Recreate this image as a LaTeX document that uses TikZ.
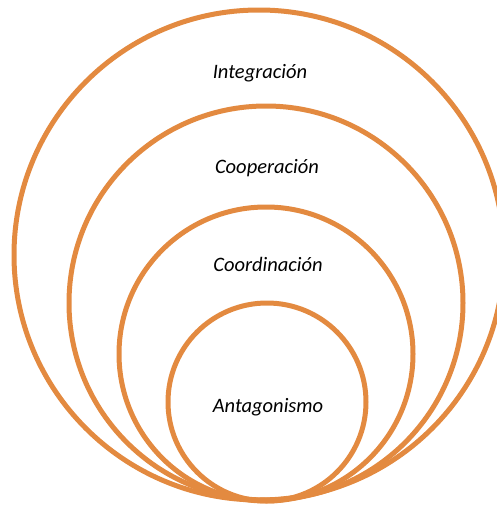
\documentclass[tikz,border=0pt]{standalone}
\usepackage{fontspec}
\setmainfont{Carlito}
\usetikzlibrary{shapes.geometric}
\definecolor{ringorange}{RGB}{227,138,64}
\tikzstyle{ring} = [circle, draw=ringorange, line width=5pt, inner sep=0pt]
\tikzstyle{label} = [text centered, font=\fontsize{20.5}{24}\selectfont\itshape, text=black]

\begin{document}
\begin{tikzpicture}[x=1pt, y=-1pt]
        \useasboundingbox (0,0) rectangle (497,506);

        \node (integracion) [ring, minimum size=490pt] at (259,255) {};
        \node (cooperacion) [ring, minimum size=394pt] at (266,303) {};
        \node (coordinacion) [ring, minimum size=294pt] at (266,354) {};
        \node (antagonismo) [ring, minimum size=198pt] at (267,402) {};

        \node (t1) [label] at (260,73) {Integración};
        \node (t2) [label] at (267,168) {Cooperación};
        \node (t3) [label] at (268,264) {Coordinación};
        \node (t4) [label] at (268,407) {Antagonismo};
    \end{tikzpicture}
\end{document}
